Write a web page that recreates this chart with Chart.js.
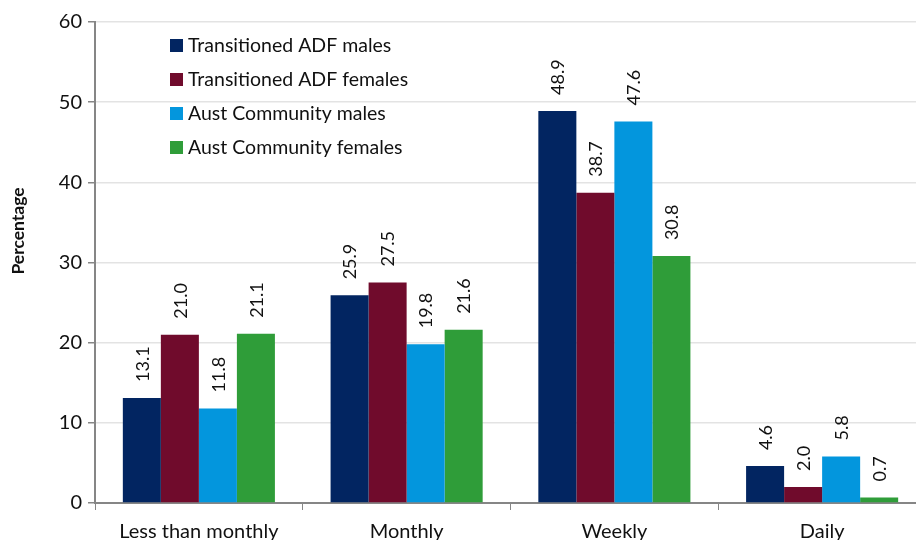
<!DOCTYPE html>
<html>
<head>
<meta charset="utf-8">
<script src="https://cdn.jsdelivr.net/npm/chart.js@4/dist/chart.umd.min.js"></script>
<style>
  html, body { margin: 0; padding: 0; background: #fff; overflow: hidden; }
  #wrap { width: 930px; height: 540px; }
</style>
</head>
<body>
<div id="wrap"><canvas id="chart" width="930" height="540"></canvas></div>
<script>
const categories = ["Less than monthly", "Monthly", "Weekly", "Daily"];
const seriesNames = ["Transitioned ADF males", "Transitioned ADF females", "Aust Community males", "Aust Community females"];
const adfMales = [13.1, 25.9, 48.9, 4.6];
const adfFemales = [21.0, 27.5, 38.7, 2.0];
const communityMales = [11.8, 19.8, 47.6, 5.8];
const communityFemales = [21.1, 21.6, 30.8, 0.7];
const yTicks = [0, 10, 20, 30, 40, 50, 60];

const colors = ["#022561", "#700b2c", "#0396dd", "#2f9d39"];
const fontFamily = "Lato, 'Open Sans', sans-serif";

// value labels, rotated, above each bar
const barLabels = {
    id: "barLabels",
    afterDatasetsDraw(chart) {
        const ctx = chart.ctx;
        ctx.save();
        ctx.font = "18px " + fontFamily;
        ctx.fillStyle = "#111";
        ctx.textAlign = "left";
        ctx.textBaseline = "middle";
        chart.data.datasets.forEach((ds, i) => {
            chart.getDatasetMeta(i).data.forEach((bar, j) => {
                ctx.save();
                ctx.translate(bar.x + 1, bar.y - 16);
                ctx.rotate(-Math.PI / 2);
                ctx.fillText(ds.data[j].toFixed(1), 0, 0);
                ctx.restore();
            });
        });
        ctx.restore();
    }
};

// legend drawn inside the plot area
const innerLegend = {
    id: "innerLegend",
    afterDraw(chart) {
        const ctx = chart.ctx;
        ctx.save();
        ctx.font = "19.5px " + fontFamily;
        ctx.textBaseline = "middle";
        chart.data.datasets.forEach((ds, i) => {
            var y = 45 + i * 34;
            ctx.fillStyle = ds.backgroundColor;
            ctx.fillRect(170, y - 6, 13, 13);
            ctx.fillStyle = "#111";
            ctx.fillText(ds.label, 188, y + 1);
        });
        ctx.restore();
    }
};

// y axis title
const yTitle = {
    id: "yTitle",
    afterDraw(chart) {
        const ctx = chart.ctx;
        ctx.save();
        ctx.font = "bold 17.5px " + fontFamily;
        ctx.fillStyle = "#111";
        ctx.textAlign = "center";
        ctx.textBaseline = "middle";
        ctx.translate(18, 231);
        ctx.rotate(-Math.PI / 2);
        ctx.fillText("Percentage", 0, 0);
        ctx.restore();
    }
};

const allSeries = [adfMales, adfFemales, communityMales, communityFemales];

new Chart(document.getElementById("chart"), {
    type: "bar",
    data: {
        labels: categories,
        datasets: allSeries.map((vals, i) => ({
            label: seriesNames[i],
            data: vals,
            backgroundColor: colors[i],
            borderWidth: 0,
            categoryPercentage: 0.732,
            barPercentage: 1.0
        }))
    },
    options: {
        responsive: false,
        animation: false,
        layout: { padding: { top: 22, right: 4, left: 0, bottom: 0 } },
        plugins: {
            legend: { display: false },
            tooltip: { enabled: false }
        },
        scales: {
            x: {
                grid: {
                    display: true,
                    drawOnChartArea: false,
                    drawTicks: true,
                    tickLength: 7,
                    color: "#868686",
                    offset: true
                },
                border: { color: "#868686", width: 2 },
                ticks: {
                    color: "#111",
                    font: { family: fontFamily, size: 20 },
                    padding: 10,
                    maxRotation: 0
                },
                afterFit(scale) { scale.height = 37; }
            },
            y: {
                min: 0,
                max: 60,
                afterBuildTicks(scale) { scale.ticks = yTicks.map(v => ({ value: v })); },
                grid: {
                    color: "#e3e3e3",
                    lineWidth: 1.5,
                    drawTicks: true,
                    tickLength: 7,
                    tickColor: "#868686"
                },
                border: { color: "#868686", width: 2 },
                ticks: {
                    color: "#111",
                    font: { family: fontFamily, size: 20 },
                    padding: 6
                },
                afterFit(scale) { scale.width = 95; }
            }
        }
    },
    plugins: [barLabels, innerLegend, yTitle]
});
</script>
</body>
</html>
